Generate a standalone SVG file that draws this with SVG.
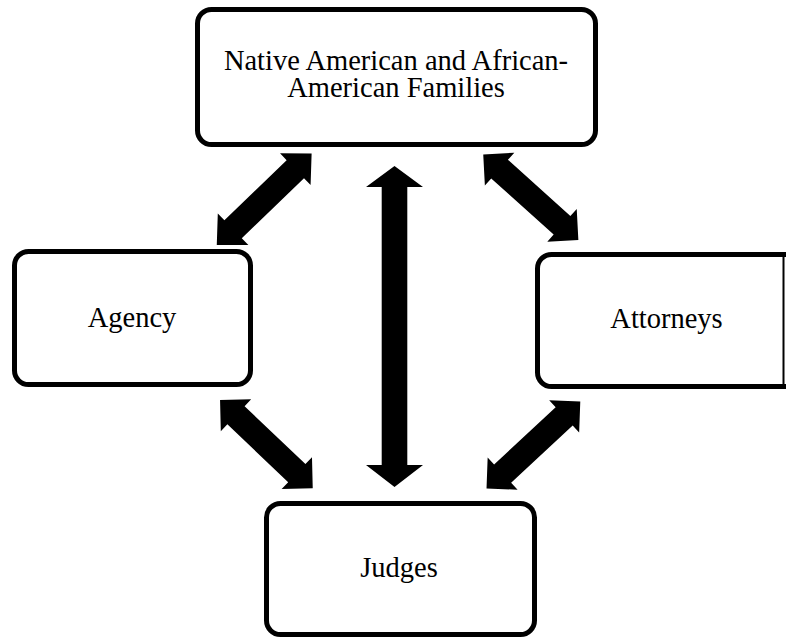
<svg xmlns="http://www.w3.org/2000/svg" width="786" height="637" viewBox="0 0 786 637">
<style>
.box{fill:#fff;stroke:#000;stroke-width:5}
.lbl{font-family:"Liberation Serif","Times New Roman",serif;font-size:28.5px;fill:#000;text-anchor:middle}
.arr{fill:#000;stroke:none}
</style>
<defs>
<polygon id="dbl" points="-64,0 -42,-22 -42,-12.5 42,-12.5 42,-22 64,0 42,22 42,12.5 -42,12.5 -42,22"/>
</defs>
<rect width="786" height="637" fill="#fff"/>
<g id="connectors">
<polygon class="arr" points="394.5,166 423,187 407.3,187 407.3,465 423,465 394.5,487 366,465 381.7,465 381.7,187 366,187"/>
<use href="#dbl" class="arr" transform="translate(264.2,199.2) rotate(-44) scale(1.03,1)"/>
<use href="#dbl" class="arr" transform="translate(530.8,197.2) rotate(42)"/>
<use href="#dbl" class="arr" transform="translate(266.4,444.2) rotate(43.6)"/>
<use href="#dbl" class="arr" transform="translate(533.4,445) rotate(-42.9)"/>
</g>
<g id="families">
<rect class="box" x="197.5" y="9.5" width="398" height="135" rx="14"/>
<text class="lbl" x="396" y="70">Native American and African-</text>
<text class="lbl" x="396" y="97">American Families</text>
</g>
<g id="agency">
<rect class="box" x="14.5" y="251.5" width="236" height="133" rx="14"/>
<text class="lbl" x="132" y="327">Agency</text>
</g>
<g id="attorneys">
<rect class="box" x="537.5" y="254.5" width="262" height="132" rx="14"/>
<line x1="783.5" y1="254" x2="783.5" y2="387" stroke="#000" stroke-width="2"/>
<text class="lbl" x="666.5" y="328">Attorneys</text>
</g>
<g id="judges">
<rect class="box" x="266.5" y="503.5" width="268" height="131" rx="14"/>
<text class="lbl" x="399" y="577">Judges</text>
</g>
</svg>
